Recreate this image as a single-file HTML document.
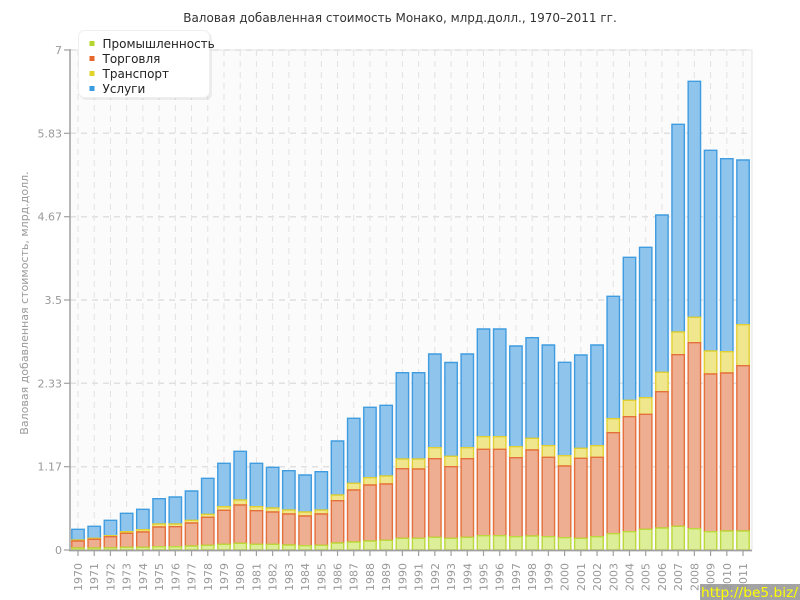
<!DOCTYPE html>
<html><head><meta charset="utf-8">
<style>
html,body{margin:0;padding:0;background:#fff;width:800px;height:600px;overflow:hidden}
svg{display:block}
text{font-family:"DejaVu Sans","Liberation Sans",sans-serif}
.s{fill:#8fc4ec;stroke:#3f9ce0;stroke-width:1.4}
.t{fill:#efe68e;stroke:#e2cf32;stroke-width:1.4}
.o{fill:#eeae92;stroke:#e5703c;stroke-width:1.4}
.g{fill:#dcee98;stroke:#bcd83a;stroke-width:1.4}
.yl{font-size:11px;fill:#999;text-anchor:end}
.xl{font-size:11px;fill:#999;text-anchor:end}
</style></head><body>
<svg width="800" height="600" viewBox="0 0 800 600" xmlns="http://www.w3.org/2000/svg">
<rect x="0" y="0" width="800" height="600" fill="#fff"/>
<text x="400" y="22" text-anchor="middle" font-size="12" fill="#333">Валовая добавленная стоимость Монако, млрд.долл., 1970–2011 гг.</text>
<!-- plot area -->
<rect x="70" y="50" width="682" height="500" fill="#fbfbfb" stroke="#e6e6e6" stroke-width="1"/>
<!-- horizontal grid -->
<g stroke="#e0e0e0" stroke-width="1.5" stroke-dasharray="6,5">
<line x1="70" y1="50" x2="752" y2="50"/>
<line x1="70" y1="133.3" x2="752" y2="133.3"/>
<line x1="70" y1="216.7" x2="752" y2="216.7"/>
<line x1="70" y1="300" x2="752" y2="300"/>
<line x1="70" y1="383.3" x2="752" y2="383.3"/>
<line x1="70" y1="466.7" x2="752" y2="466.7"/>
</g>
<!-- vertical grid -->
<g stroke="#e2e2e2" stroke-width="1" stroke-dasharray="6,5">
<line x1="78" y1="50" x2="78" y2="550"/><line x1="94.22" y1="50" x2="94.22" y2="550"/><line x1="110.44" y1="50" x2="110.44" y2="550"/><line x1="126.66" y1="50" x2="126.66" y2="550"/><line x1="142.88" y1="50" x2="142.88" y2="550"/><line x1="159.1" y1="50" x2="159.1" y2="550"/><line x1="175.32" y1="50" x2="175.32" y2="550"/><line x1="191.54" y1="50" x2="191.54" y2="550"/><line x1="207.76" y1="50" x2="207.76" y2="550"/><line x1="223.98" y1="50" x2="223.98" y2="550"/><line x1="240.2" y1="50" x2="240.2" y2="550"/><line x1="256.42" y1="50" x2="256.42" y2="550"/><line x1="272.64" y1="50" x2="272.64" y2="550"/><line x1="288.86" y1="50" x2="288.86" y2="550"/><line x1="305.08" y1="50" x2="305.08" y2="550"/><line x1="321.3" y1="50" x2="321.3" y2="550"/><line x1="337.52" y1="50" x2="337.52" y2="550"/><line x1="353.74" y1="50" x2="353.74" y2="550"/><line x1="369.96" y1="50" x2="369.96" y2="550"/><line x1="386.18" y1="50" x2="386.18" y2="550"/><line x1="402.4" y1="50" x2="402.4" y2="550"/><line x1="418.62" y1="50" x2="418.62" y2="550"/><line x1="434.84" y1="50" x2="434.84" y2="550"/><line x1="451.06" y1="50" x2="451.06" y2="550"/><line x1="467.28" y1="50" x2="467.28" y2="550"/><line x1="483.5" y1="50" x2="483.5" y2="550"/><line x1="499.72" y1="50" x2="499.72" y2="550"/><line x1="515.94" y1="50" x2="515.94" y2="550"/><line x1="532.16" y1="50" x2="532.16" y2="550"/><line x1="548.38" y1="50" x2="548.38" y2="550"/><line x1="564.6" y1="50" x2="564.6" y2="550"/><line x1="580.82" y1="50" x2="580.82" y2="550"/><line x1="597.04" y1="50" x2="597.04" y2="550"/><line x1="613.26" y1="50" x2="613.26" y2="550"/><line x1="629.48" y1="50" x2="629.48" y2="550"/><line x1="645.7" y1="50" x2="645.7" y2="550"/><line x1="661.92" y1="50" x2="661.92" y2="550"/><line x1="678.14" y1="50" x2="678.14" y2="550"/><line x1="694.36" y1="50" x2="694.36" y2="550"/><line x1="710.58" y1="50" x2="710.58" y2="550"/><line x1="726.8" y1="50" x2="726.8" y2="550"/><line x1="743.02" y1="50" x2="743.02" y2="550"/>
</g>
<!-- bars -->
<g>
<g transform="translate(71.8,0)"><path class="s" d="M0 529.3h12.4V540h-12.4Z"/><path class="t" d="M0 540h12.4V541h-12.4Z"/><path class="o" d="M0 541h12.4V548h-12.4Z"/><path class="g" d="M0 548h12.4V550h-12.4Z"/></g>
<g transform="translate(88.02,0)"><path class="s" d="M0 526.3h12.4V538.3h-12.4Z"/><path class="t" d="M0 538.3h12.4V539.3h-12.4Z"/><path class="o" d="M0 539.3h12.4V548h-12.4Z"/><path class="g" d="M0 548h12.4V550h-12.4Z"/></g>
<g transform="translate(104.24,0)"><path class="s" d="M0 520.3h12.4V535.7h-12.4Z"/><path class="t" d="M0 535.7h12.4V536.7h-12.4Z"/><path class="o" d="M0 536.7h12.4V547.8h-12.4Z"/><path class="g" d="M0 547.8h12.4V550h-12.4Z"/></g>
<g transform="translate(120.46,0)"><path class="s" d="M0 513.3h12.4V531.7h-12.4Z"/><path class="t" d="M0 531.7h12.4V533.3h-12.4Z"/><path class="o" d="M0 533.3h12.4V547.3h-12.4Z"/><path class="g" d="M0 547.3h12.4V550h-12.4Z"/></g>
<g transform="translate(136.68,0)"><path class="s" d="M0 509.3h12.4V529.7h-12.4Z"/><path class="t" d="M0 529.7h12.4V532h-12.4Z"/><path class="o" d="M0 532h12.4V547.3h-12.4Z"/><path class="g" d="M0 547.3h12.4V550h-12.4Z"/></g>
<g transform="translate(152.9,0)"><path class="s" d="M0 498.7h12.4V524h-12.4Z"/><path class="t" d="M0 524h12.4V527h-12.4Z"/><path class="o" d="M0 527h12.4V546.7h-12.4Z"/><path class="g" d="M0 546.7h12.4V550h-12.4Z"/></g>
<g transform="translate(169.12,0)"><path class="s" d="M0 497h12.4V524h-12.4Z"/><path class="t" d="M0 524h12.4V526.7h-12.4Z"/><path class="o" d="M0 526.7h12.4V546.7h-12.4Z"/><path class="g" d="M0 546.7h12.4V550h-12.4Z"/></g>
<g transform="translate(185.34,0)"><path class="s" d="M0 491h12.4V520.3h-12.4Z"/><path class="t" d="M0 520.3h12.4V523h-12.4Z"/><path class="o" d="M0 523h12.4V546h-12.4Z"/><path class="g" d="M0 546h12.4V550h-12.4Z"/></g>
<g transform="translate(201.56,0)"><path class="s" d="M0 478.3h12.4V514.3h-12.4Z"/><path class="t" d="M0 514.3h12.4V517.3h-12.4Z"/><path class="o" d="M0 517.3h12.4V545.3h-12.4Z"/><path class="g" d="M0 545.3h12.4V550h-12.4Z"/></g>
<g transform="translate(217.78,0)"><path class="s" d="M0 463.3h12.4V506.7h-12.4Z"/><path class="t" d="M0 506.7h12.4V510.3h-12.4Z"/><path class="o" d="M0 510.3h12.4V544.3h-12.4Z"/><path class="g" d="M0 544.3h12.4V550h-12.4Z"/></g>
<g transform="translate(234,0)"><path class="s" d="M0 451.3h12.4V500h-12.4Z"/><path class="t" d="M0 500h12.4V505h-12.4Z"/><path class="o" d="M0 505h12.4V543.3h-12.4Z"/><path class="g" d="M0 543.3h12.4V550h-12.4Z"/></g>
<g transform="translate(250.22,0)"><path class="s" d="M0 463.3h12.4V506.7h-12.4Z"/><path class="t" d="M0 506.7h12.4V510.7h-12.4Z"/><path class="o" d="M0 510.7h12.4V544.3h-12.4Z"/><path class="g" d="M0 544.3h12.4V550h-12.4Z"/></g>
<g transform="translate(266.44,0)"><path class="s" d="M0 467.3h12.4V508h-12.4Z"/><path class="t" d="M0 508h12.4V512h-12.4Z"/><path class="o" d="M0 512h12.4V544.3h-12.4Z"/><path class="g" d="M0 544.3h12.4V550h-12.4Z"/></g>
<g transform="translate(282.66,0)"><path class="s" d="M0 470.7h12.4V510h-12.4Z"/><path class="t" d="M0 510h12.4V514h-12.4Z"/><path class="o" d="M0 514h12.4V545h-12.4Z"/><path class="g" d="M0 545h12.4V550h-12.4Z"/></g>
<g transform="translate(298.88,0)"><path class="s" d="M0 475h12.4V512h-12.4Z"/><path class="t" d="M0 512h12.4V516h-12.4Z"/><path class="o" d="M0 516h12.4V545.7h-12.4Z"/><path class="g" d="M0 545.7h12.4V550h-12.4Z"/></g>
<g transform="translate(315.1,0)"><path class="s" d="M0 471.7h12.4V510h-12.4Z"/><path class="t" d="M0 510h12.4V514h-12.4Z"/><path class="o" d="M0 514h12.4V545.3h-12.4Z"/><path class="g" d="M0 545.3h12.4V550h-12.4Z"/></g>
<g transform="translate(331.32,0)"><path class="s" d="M0 441h12.4V495h-12.4Z"/><path class="t" d="M0 495h12.4V500.7h-12.4Z"/><path class="o" d="M0 500.7h12.4V543h-12.4Z"/><path class="g" d="M0 543h12.4V550h-12.4Z"/></g>
<g transform="translate(347.54,0)"><path class="s" d="M0 418.3h12.4V483.3h-12.4Z"/><path class="t" d="M0 483.3h12.4V490h-12.4Z"/><path class="o" d="M0 490h12.4V542h-12.4Z"/><path class="g" d="M0 542h12.4V550h-12.4Z"/></g>
<g transform="translate(363.76,0)"><path class="s" d="M0 407.3h12.4V477.7h-12.4Z"/><path class="t" d="M0 477.7h12.4V485h-12.4Z"/><path class="o" d="M0 485h12.4V541h-12.4Z"/><path class="g" d="M0 541h12.4V550h-12.4Z"/></g>
<g transform="translate(379.98,0)"><path class="s" d="M0 405.3h12.4V476h-12.4Z"/><path class="t" d="M0 476h12.4V484h-12.4Z"/><path class="o" d="M0 484h12.4V540.3h-12.4Z"/><path class="g" d="M0 540.3h12.4V550h-12.4Z"/></g>
<g transform="translate(396.2,0)"><path class="s" d="M0 372.7h12.4V459h-12.4Z"/><path class="t" d="M0 459h12.4V468.7h-12.4Z"/><path class="o" d="M0 468.7h12.4V538.3h-12.4Z"/><path class="g" d="M0 538.3h12.4V550h-12.4Z"/></g>
<g transform="translate(412.42,0)"><path class="s" d="M0 372.7h12.4V459h-12.4Z"/><path class="t" d="M0 459h12.4V469h-12.4Z"/><path class="o" d="M0 469h12.4V538.3h-12.4Z"/><path class="g" d="M0 538.3h12.4V550h-12.4Z"/></g>
<g transform="translate(428.64,0)"><path class="s" d="M0 354h12.4V447.7h-12.4Z"/><path class="t" d="M0 447.7h12.4V458.7h-12.4Z"/><path class="o" d="M0 458.7h12.4V537.3h-12.4Z"/><path class="g" d="M0 537.3h12.4V550h-12.4Z"/></g>
<g transform="translate(444.86,0)"><path class="s" d="M0 362.5h12.4V456.3h-12.4Z"/><path class="t" d="M0 456.3h12.4V466.7h-12.4Z"/><path class="o" d="M0 466.7h12.4V538.3h-12.4Z"/><path class="g" d="M0 538.3h12.4V550h-12.4Z"/></g>
<g transform="translate(461.08,0)"><path class="s" d="M0 354h12.4V447.7h-12.4Z"/><path class="t" d="M0 447.7h12.4V458.7h-12.4Z"/><path class="o" d="M0 458.7h12.4V537.3h-12.4Z"/><path class="g" d="M0 537.3h12.4V550h-12.4Z"/></g>
<g transform="translate(477.3,0)"><path class="s" d="M0 329h12.4V436.7h-12.4Z"/><path class="t" d="M0 436.7h12.4V449.3h-12.4Z"/><path class="o" d="M0 449.3h12.4V535.7h-12.4Z"/><path class="g" d="M0 535.7h12.4V550h-12.4Z"/></g>
<g transform="translate(493.52,0)"><path class="s" d="M0 329h12.4V436.7h-12.4Z"/><path class="t" d="M0 436.7h12.4V449.3h-12.4Z"/><path class="o" d="M0 449.3h12.4V535.7h-12.4Z"/><path class="g" d="M0 535.7h12.4V550h-12.4Z"/></g>
<g transform="translate(509.74,0)"><path class="s" d="M0 346h12.4V446.7h-12.4Z"/><path class="t" d="M0 446.7h12.4V457.7h-12.4Z"/><path class="o" d="M0 457.7h12.4V536.7h-12.4Z"/><path class="g" d="M0 536.7h12.4V550h-12.4Z"/></g>
<g transform="translate(525.96,0)"><path class="s" d="M0 337.7h12.4V438.3h-12.4Z"/><path class="t" d="M0 438.3h12.4V450h-12.4Z"/><path class="o" d="M0 450h12.4V536h-12.4Z"/><path class="g" d="M0 536h12.4V550h-12.4Z"/></g>
<g transform="translate(542.18,0)"><path class="s" d="M0 345h12.4V445.7h-12.4Z"/><path class="t" d="M0 445.7h12.4V457.3h-12.4Z"/><path class="o" d="M0 457.3h12.4V536.7h-12.4Z"/><path class="g" d="M0 536.7h12.4V550h-12.4Z"/></g>
<g transform="translate(558.4,0)"><path class="s" d="M0 362.3h12.4V455.7h-12.4Z"/><path class="t" d="M0 455.7h12.4V466h-12.4Z"/><path class="o" d="M0 466h12.4V537.7h-12.4Z"/><path class="g" d="M0 537.7h12.4V550h-12.4Z"/></g>
<g transform="translate(574.62,0)"><path class="s" d="M0 355h12.4V448.3h-12.4Z"/><path class="t" d="M0 448.3h12.4V458.3h-12.4Z"/><path class="o" d="M0 458.3h12.4V538.3h-12.4Z"/><path class="g" d="M0 538.3h12.4V550h-12.4Z"/></g>
<g transform="translate(590.84,0)"><path class="s" d="M0 345h12.4V445.7h-12.4Z"/><path class="t" d="M0 445.7h12.4V457.3h-12.4Z"/><path class="o" d="M0 457.3h12.4V536.7h-12.4Z"/><path class="g" d="M0 536.7h12.4V550h-12.4Z"/></g>
<g transform="translate(607.06,0)"><path class="s" d="M0 296.3h12.4V418.7h-12.4Z"/><path class="t" d="M0 418.7h12.4V432.7h-12.4Z"/><path class="o" d="M0 432.7h12.4V533.7h-12.4Z"/><path class="g" d="M0 533.7h12.4V550h-12.4Z"/></g>
<g transform="translate(623.28,0)"><path class="s" d="M0 257.3h12.4V400.3h-12.4Z"/><path class="t" d="M0 400.3h12.4V416.7h-12.4Z"/><path class="o" d="M0 416.7h12.4V531.7h-12.4Z"/><path class="g" d="M0 531.7h12.4V550h-12.4Z"/></g>
<g transform="translate(639.5,0)"><path class="s" d="M0 247.3h12.4V397.7h-12.4Z"/><path class="t" d="M0 397.7h12.4V414.3h-12.4Z"/><path class="o" d="M0 414.3h12.4V529.3h-12.4Z"/><path class="g" d="M0 529.3h12.4V550h-12.4Z"/></g>
<g transform="translate(655.72,0)"><path class="s" d="M0 215h12.4V372.3h-12.4Z"/><path class="t" d="M0 372.3h12.4V391.7h-12.4Z"/><path class="o" d="M0 391.7h12.4V528h-12.4Z"/><path class="g" d="M0 528h12.4V550h-12.4Z"/></g>
<g transform="translate(671.94,0)"><path class="s" d="M0 124.3h12.4V332h-12.4Z"/><path class="t" d="M0 332h12.4V354.7h-12.4Z"/><path class="o" d="M0 354.7h12.4V526.3h-12.4Z"/><path class="g" d="M0 526.3h12.4V550h-12.4Z"/></g>
<g transform="translate(688.16,0)"><path class="s" d="M0 81.3h12.4V317.3h-12.4Z"/><path class="t" d="M0 317.3h12.4V342.7h-12.4Z"/><path class="o" d="M0 342.7h12.4V528.7h-12.4Z"/><path class="g" d="M0 528.7h12.4V550h-12.4Z"/></g>
<g transform="translate(704.38,0)"><path class="s" d="M0 150.3h12.4V351h-12.4Z"/><path class="t" d="M0 351h12.4V374h-12.4Z"/><path class="o" d="M0 374h12.4V531.7h-12.4Z"/><path class="g" d="M0 531.7h12.4V550h-12.4Z"/></g>
<g transform="translate(720.6,0)"><path class="s" d="M0 158.7h12.4V351.7h-12.4Z"/><path class="t" d="M0 351.7h12.4V373h-12.4Z"/><path class="o" d="M0 373h12.4V531h-12.4Z"/><path class="g" d="M0 531h12.4V550h-12.4Z"/></g>
<g transform="translate(736.82,0)"><path class="s" d="M0 160h12.4V324.7h-12.4Z"/><path class="t" d="M0 324.7h12.4V365.7h-12.4Z"/><path class="o" d="M0 365.7h12.4V531h-12.4Z"/><path class="g" d="M0 531h12.4V550h-12.4Z"/></g>
</g>
<!-- axes -->
<line x1="70" y1="49" x2="70" y2="551" stroke="#a0a0a0" stroke-width="1.5"/>
<line x1="69" y1="550.5" x2="752" y2="550.5" stroke="#a0a0a0" stroke-width="1.8"/>
<g stroke="#a0a0a0" stroke-width="1.2">
<line x1="64" y1="50" x2="70" y2="50"/><line x1="64" y1="133.3" x2="70" y2="133.3"/><line x1="64" y1="216.7" x2="70" y2="216.7"/><line x1="64" y1="300" x2="70" y2="300"/><line x1="64" y1="383.3" x2="70" y2="383.3"/><line x1="64" y1="466.7" x2="70" y2="466.7"/><line x1="64" y1="550" x2="70" y2="550"/>
</g>
<g stroke="#a0a0a0" stroke-width="1.2">
<line x1="78" y1="550" x2="78" y2="556"/><line x1="94.22" y1="550" x2="94.22" y2="556"/><line x1="110.44" y1="550" x2="110.44" y2="556"/><line x1="126.66" y1="550" x2="126.66" y2="556"/><line x1="142.88" y1="550" x2="142.88" y2="556"/><line x1="159.1" y1="550" x2="159.1" y2="556"/><line x1="175.32" y1="550" x2="175.32" y2="556"/><line x1="191.54" y1="550" x2="191.54" y2="556"/><line x1="207.76" y1="550" x2="207.76" y2="556"/><line x1="223.98" y1="550" x2="223.98" y2="556"/><line x1="240.2" y1="550" x2="240.2" y2="556"/><line x1="256.42" y1="550" x2="256.42" y2="556"/><line x1="272.64" y1="550" x2="272.64" y2="556"/><line x1="288.86" y1="550" x2="288.86" y2="556"/><line x1="305.08" y1="550" x2="305.08" y2="556"/><line x1="321.3" y1="550" x2="321.3" y2="556"/><line x1="337.52" y1="550" x2="337.52" y2="556"/><line x1="353.74" y1="550" x2="353.74" y2="556"/><line x1="369.96" y1="550" x2="369.96" y2="556"/><line x1="386.18" y1="550" x2="386.18" y2="556"/><line x1="402.4" y1="550" x2="402.4" y2="556"/><line x1="418.62" y1="550" x2="418.62" y2="556"/><line x1="434.84" y1="550" x2="434.84" y2="556"/><line x1="451.06" y1="550" x2="451.06" y2="556"/><line x1="467.28" y1="550" x2="467.28" y2="556"/><line x1="483.5" y1="550" x2="483.5" y2="556"/><line x1="499.72" y1="550" x2="499.72" y2="556"/><line x1="515.94" y1="550" x2="515.94" y2="556"/><line x1="532.16" y1="550" x2="532.16" y2="556"/><line x1="548.38" y1="550" x2="548.38" y2="556"/><line x1="564.6" y1="550" x2="564.6" y2="556"/><line x1="580.82" y1="550" x2="580.82" y2="556"/><line x1="597.04" y1="550" x2="597.04" y2="556"/><line x1="613.26" y1="550" x2="613.26" y2="556"/><line x1="629.48" y1="550" x2="629.48" y2="556"/><line x1="645.7" y1="550" x2="645.7" y2="556"/><line x1="661.92" y1="550" x2="661.92" y2="556"/><line x1="678.14" y1="550" x2="678.14" y2="556"/><line x1="694.36" y1="550" x2="694.36" y2="556"/><line x1="710.58" y1="550" x2="710.58" y2="556"/><line x1="726.8" y1="550" x2="726.8" y2="556"/><line x1="743.02" y1="550" x2="743.02" y2="556"/>
</g>
<!-- y labels -->
<text class="yl" x="62" y="54">7</text>
<text class="yl" x="62" y="137.3">5.83</text>
<text class="yl" x="62" y="220.7">4.67</text>
<text class="yl" x="62" y="304">3.5</text>
<text class="yl" x="62" y="387.3">2.33</text>
<text class="yl" x="62" y="470.7">1.17</text>
<text class="yl" x="62" y="554">0</text>
<text transform="translate(28,303) rotate(-90)" text-anchor="middle" font-size="11" fill="#999">Валовая добавленная стоимость, млрд.долл.</text>
<!-- x labels -->
<g class="xl">
<text class="xl" transform="translate(82,563) rotate(-90)">1970</text>
<text class="xl" transform="translate(98.22,563) rotate(-90)">1971</text>
<text class="xl" transform="translate(114.44,563) rotate(-90)">1972</text>
<text class="xl" transform="translate(130.66,563) rotate(-90)">1973</text>
<text class="xl" transform="translate(146.88,563) rotate(-90)">1974</text>
<text class="xl" transform="translate(163.1,563) rotate(-90)">1975</text>
<text class="xl" transform="translate(179.32,563) rotate(-90)">1976</text>
<text class="xl" transform="translate(195.54,563) rotate(-90)">1977</text>
<text class="xl" transform="translate(211.76,563) rotate(-90)">1978</text>
<text class="xl" transform="translate(227.98,563) rotate(-90)">1979</text>
<text class="xl" transform="translate(244.2,563) rotate(-90)">1980</text>
<text class="xl" transform="translate(260.42,563) rotate(-90)">1981</text>
<text class="xl" transform="translate(276.64,563) rotate(-90)">1982</text>
<text class="xl" transform="translate(292.86,563) rotate(-90)">1983</text>
<text class="xl" transform="translate(309.08,563) rotate(-90)">1984</text>
<text class="xl" transform="translate(325.3,563) rotate(-90)">1985</text>
<text class="xl" transform="translate(341.52,563) rotate(-90)">1986</text>
<text class="xl" transform="translate(357.74,563) rotate(-90)">1987</text>
<text class="xl" transform="translate(373.96,563) rotate(-90)">1988</text>
<text class="xl" transform="translate(390.18,563) rotate(-90)">1989</text>
<text class="xl" transform="translate(406.4,563) rotate(-90)">1990</text>
<text class="xl" transform="translate(422.62,563) rotate(-90)">1991</text>
<text class="xl" transform="translate(438.84,563) rotate(-90)">1992</text>
<text class="xl" transform="translate(455.06,563) rotate(-90)">1993</text>
<text class="xl" transform="translate(471.28,563) rotate(-90)">1994</text>
<text class="xl" transform="translate(487.5,563) rotate(-90)">1995</text>
<text class="xl" transform="translate(503.72,563) rotate(-90)">1996</text>
<text class="xl" transform="translate(519.94,563) rotate(-90)">1997</text>
<text class="xl" transform="translate(536.16,563) rotate(-90)">1998</text>
<text class="xl" transform="translate(552.38,563) rotate(-90)">1999</text>
<text class="xl" transform="translate(568.6,563) rotate(-90)">2000</text>
<text class="xl" transform="translate(584.82,563) rotate(-90)">2001</text>
<text class="xl" transform="translate(601.04,563) rotate(-90)">2002</text>
<text class="xl" transform="translate(617.26,563) rotate(-90)">2003</text>
<text class="xl" transform="translate(633.48,563) rotate(-90)">2004</text>
<text class="xl" transform="translate(649.7,563) rotate(-90)">2005</text>
<text class="xl" transform="translate(665.92,563) rotate(-90)">2006</text>
<text class="xl" transform="translate(682.14,563) rotate(-90)">2007</text>
<text class="xl" transform="translate(698.36,563) rotate(-90)">2008</text>
<text class="xl" transform="translate(714.58,563) rotate(-90)">2009</text>
<text class="xl" transform="translate(730.8,563) rotate(-90)">2010</text>
<text class="xl" transform="translate(747.02,563) rotate(-90)">2011</text>
</g>
<!-- legend -->
<rect x="80" y="32" width="132" height="68" rx="6" fill="#000" opacity="0.06"/>
<rect x="78.5" y="30.5" width="131" height="67" rx="6" fill="#fff" stroke="#eeeeee" stroke-width="1"/>
<rect x="89.5" y="41" width="5" height="5" fill="#b4d62e"/>
<rect x="89.5" y="56" width="5" height="5" fill="#e5672c"/>
<rect x="89.5" y="71" width="5" height="5" fill="#e3d42a"/>
<rect x="89.5" y="86" width="5" height="5" fill="#3a9be0"/>
<g font-size="12" fill="#222">
<text x="102.5" y="48">Промышленность</text>
<text x="102.5" y="63">Торговля</text>
<text x="102.5" y="78">Транспорт</text>
<text x="102.5" y="93">Услуги</text>
</g>
<!-- watermark -->
<rect x="700" y="584" width="100" height="16" fill="#999" opacity="0.9"/>
<text x="701" y="597" font-size="13" fill="#ffff00" textLength="97" lengthAdjust="spacingAndGlyphs">http://be5.biz/</text>
</svg>
</body></html>
